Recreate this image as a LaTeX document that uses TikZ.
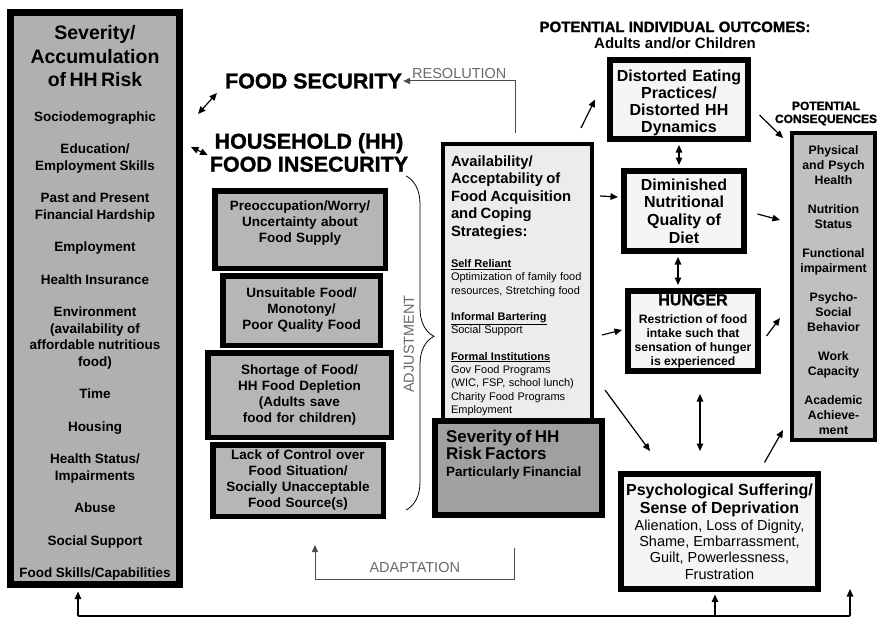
\documentclass[tikz,border=0pt]{standalone}
\usepackage{fontspec}
\setmainfont{Liberation Sans}
\newfontfamily\heavyfont{Liberation Sans Bold}[FakeBold=1.3]
\usetikzlibrary{arrows.meta,decorations.pathreplacing}

\definecolor{riskgray}{RGB}{176,176,176}
\definecolor{stackgray}{RGB}{182,182,182}
\definecolor{sevgray}{RGB}{160,160,160}
\definecolor{consgray}{RGB}{192,192,192}
\definecolor{paleback}{RGB}{236,236,236}
\definecolor{labelgray}{RGB}{105,105,105}

\newcommand{\fsz}[2]{\fontsize{#1}{#2}\selectfont}
\newcommand{\padtop}[1]{\rule{0pt}{#1}}
\newcommand{\padbot}[1]{\par\nointerlineskip\vbox to #1{}}

\begin{document}
\begin{tikzpicture}[x=1pt,y=-1pt,
  riskbox/.style={draw,line width=7pt,fill=riskgray,inner sep=0pt,
    align=center,text width=162pt,font=\bfseries},
  stackbox/.style={draw,line width=5.5pt,fill=stackgray,inner sep=0pt,
    align=center,text width=150pt,font=\bfseries\fsz{13.5}{16}},
  availbox/.style={draw,line width=4pt,fill=paleback,inner xsep=8pt,inner ysep=0pt,
    align=left,text width=133pt},
  sevbox/.style={draw,line width=5.5pt,fill=sevgray,inner xsep=11pt,inner ysep=0pt,
    align=left,text width=145pt,font=\bfseries},
  outbox/.style={draw,line width=5pt,fill=paleback!50!white,inner sep=0pt,align=center},
  consbox/.style={draw,line width=4pt,fill=consgray,inner sep=0pt,align=center,
    text width=80pt,font=\bfseries\fsz{12.3}{15}},
  headline/.style={inner sep=1pt,align=center,font=\heavyfont\fsz{21.5}{23}},
  lbl/.style={text=labelgray,inner sep=2pt,font=\fsz{14.5}{15}},
  arr/.style={line width=1.2pt,-{Triangle[length=7.5pt,width=6.5pt]}},
  dbl/.style={line width=1.2pt,{Triangle[length=7.5pt,width=6.5pt]}-{Triangle[length=7.5pt,width=6.5pt]}},
  loopline/.style={draw=labelgray!70!black,line width=1pt,-{Triangle[length=7pt,width=6pt]}}
]
\fill[white] (0,0) rectangle (879,618);
\useasboundingbox (0,0) rectangle (879,618);

% Severity/Accumulation column
\node[riskbox,minimum width=169pt,minimum height=572pt] (risk) at (95,298.5)
  {{\fsz{19.5}{23.5}\padtop{23pt}Severity/\\Accumulation\\of HH Risk\par}\vspace{18pt}
   {\fsz{13.5}{16.5}Sociodemographic\\[16pt]Education/\\Employment Skills\\[16pt]
    Past and Present\\Financial Hardship\\[16pt]Employment\\[16pt]Health Insurance\\[16pt]
    Environment\\(availability of\\affordable nutritious\\food)\\[16pt]Time\\[16pt]
    Housing\\[16pt]Health Status/\\Impairments\\[16pt]Abuse\\[16pt]Social Support\\[16pt]
    Food Skills/Capabilities\par}};

% Headlines
\node[headline] (foodsec) at (313.5,81) {FOOD SECURITY};
\node[headline] (hhfi) at (309,152.5) {HOUSEHOLD (HH)\\FOOD INSECURITY};

% Stack of insecurity levels
\node[stackbox,minimum width=170.5pt,minimum height=77.5pt] (worry) at (300,229.5)
  {Preoccupation/Worry/\\Uncertainty about\\Food Supply\padbot{13pt}};
\node[stackbox,minimum width=157.5pt,minimum height=69.5pt] (monotony) at (301.5,310.5)
  {Unsuitable Food/\\Monotony/\\Poor Quality Food};
\node[stackbox,minimum width=183.5pt,minimum height=84.5pt] (shortage) at (299.5,395)
  {Shortage of Food/\\HH Food Depletion\\(Adults save\\food for children)};
\node[stackbox,minimum width=170.5pt,minimum height=71.5pt] (lack) at (298,480.5)
  {Lack of Control over\\Food Situation/\\Socially Unacceptable\\Food Source(s)};

% Coping strategies and risk factors
\node[availbox,minimum width=149pt,minimum height=278pt] (avail) at (517.5,283)
  {{\bfseries\fsz{14.8}{17.5}\padtop{16pt}Availability/\\Acceptability of\\Food Acquisition\\and Coping\\Strategies:\par}\vspace{18pt}
   {\fsz{11}{13.3}\underline{\textbf{Self Reliant}}\\Optimization of family food\\resources, Stretching food\\[13pt]
    \underline{\textbf{Informal Bartering}}\\Social Support\\[13pt]
    \underline{\textbf{Formal Institutions}}\\Gov Food Programs\\(WIC, FSP, school lunch)\\Charity Food Programs\\Employment\par}};
\node[sevbox,minimum width=167pt,minimum height=94pt] (sev) at (518.5,468)
  {{\fsz{17}{17}Severity of HH\\Risk Factors\par}{\fsz{13.5}{17}Particularly Financial\par}\padbot{27pt}};

% Individual outcomes
\node[inner sep=1pt,align=center,font=\fsz{15}{16}] (outtitle) at (675,35)
  {{\heavyfont POTENTIAL INDIVIDUAL OUTCOMES:}\\{\bfseries Adults and/or Children}};
\node[outbox,text width=128pt,font=\bfseries\fsz{16}{17},minimum width=139pt,minimum height=80pt] (eating) at (679,99.5)
  {\padtop{19pt}Distorted Eating\\Practices/\\Distorted HH\\Dynamics};
\node[outbox,font=\bfseries\fsz{16}{17.7},minimum width=121pt,minimum height=81pt] (diet) at (684,211)
  {Diminished\\Nutritional\\Quality of\\Diet};
\node[outbox,font=\bfseries\fsz{12.2}{14},minimum width=131pt,minimum height=81pt] (hunger) at (693,331)
  {{\heavyfont\fsz{16}{16}HUNGER}\\[4pt]Restriction of food\\intake such that\\sensation of hunger\\is experienced};
\node[outbox,font=\fsz{14.5}{16.3},minimum width=198pt,minimum height=116pt] (suffer) at (719.5,531.5)
  {{\bfseries\fsz{16}{18}Psychological Suffering/}\\[1.7pt]{\bfseries\fsz{16}{18}Sense of Deprivation}\\[0.7pt]
   Alienation, Loss of Dignity,\\Shame, Embarrassment,\\Guilt, Powerlessness,\\Frustration};
\foreach \n in {eating,diet,hunger,suffer}
  \draw[line width=1.2pt] ([shift={(5.2pt,-5.2pt)}]\n.north west) rectangle ([shift={(-5.2pt,5.2pt)}]\n.south east);

% Consequences
\node[inner sep=1pt,align=center,font=\heavyfont\fsz{12}{13}] (contitle) at (826,113.5) {POTENTIAL\\CONSEQUENCES};
\node[consbox,minimum width=83pt,minimum height=307pt] (cons) at (833.5,286.5)
  {\padtop{17pt}Physical\\and Psych\\Health\\[14pt]Nutrition\\Status\\[14pt]Functional\\impairment\\[14pt]
   Psycho-\\Social\\Behavior\\[14pt]Work\\Capacity\\[14pt]Academic\\Achieve-\\ment};

% Adjustment brace
\draw[decorate,decoration={brace,amplitude=28pt,aspect=0.48},line width=0.8pt]
  ([shift={(18,-12)}]worry.north east) -- ([shift={(20,-9)}]lack.south east);
\node[lbl,rotate=90] (adjust) at (409,344) {ADJUSTMENT};

% Resolution and adaptation loops
\draw[loopline] ([shift={(-2,-9)}]avail.north) |- node[lbl,pos=0.75,above] (resol) {RESOLUTION} (foodsec.east);
\draw[loopline] ([shift={(-4,30)}]sev.south) -- ++(0,32)
  -| node[lbl,pos=0.25,above=5pt] (adapt) {ADAPTATION} ([shift={(17,26)}]lack.south);

% Left double arrows
\draw[dbl] ([shift={(15,105)}]risk.north east) -- ([shift={(-7,12)}]foodsec.west);
\draw[dbl] ([shift={(8,138)}]risk.north east) -- ([shift={(-1,2.5)}]hhfi.west);

% Coping to outcomes
\draw[arr] ([shift={(-13,-14)}]avail.north east) -- ([xshift=-12pt]eating.west);
\draw[arr] ([shift={(6,54)}]avail.north east) -- ([shift={(-3,-14)}]diet.west);
\draw[arr] ([shift={(8,52)}]avail.east) -- ([shift={(-3,-1)}]hunger.west);
\draw[arr] ([shift={(11,107)}]avail.east) -- ([shift={(32,-20)}]suffer.north west);
\draw[dbl,shorten <=3pt,shorten >=3pt] (eating.south) -- (eating.south |- diet.north);
\draw[dbl,shorten <=3pt,shorten >=3pt] ([xshift=-6pt]diet.south) -- ([xshift=-6pt]hunger.north -| diet.south);
\draw[dbl,shorten <=20pt,shorten >=20pt] ([xshift=7pt]hunger.south) -- ([xshift=7pt]suffer.north -| hunger.south);

% Outcomes to consequences
\draw[arr] ([shift={(8.5,15.5)}]eating.east) -- ([shift={(-7,7)}]cons.north west);
\draw[arr] ([shift={(10.5,3)}]diet.east) -- ([shift={(-10,89)}]cons.north west);
\draw[arr] ([shift={(5.5,5)}]hunger.east) -- ([shift={(-10,187)}]cons.north west);
\draw[arr] ([shift={(-56.5,-8.5)}]suffer.north east) -- ([shift={(-7,-12)}]cons.south west);

% Feedback line along the bottom
\coordinate (fbl) at (78,616);
\coordinate (fbr) at (850,616);
\coordinate (fbtip) at (850,589);
\draw[line width=1.2pt] (fbl) -- (fbr);
\draw[arr,shorten >=3.5pt] (fbl) -- (fbl |- risk.south);
\draw[arr,shorten >=2.5pt] ([xshift=-4.5pt]fbl -| suffer.south) -- ([xshift=-4.5pt]suffer.south);
\draw[arr] (fbr) -- (fbtip);
\end{tikzpicture}
\end{document}
